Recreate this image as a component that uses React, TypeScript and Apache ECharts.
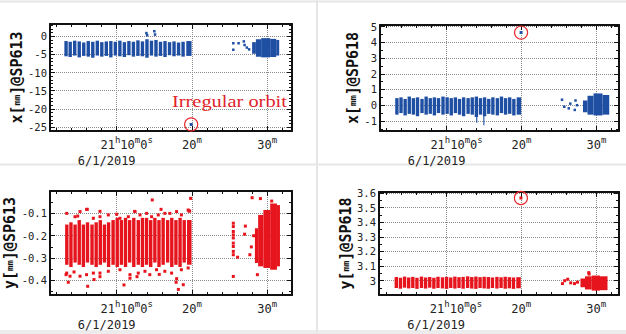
import React, { useEffect, useRef } from "react";
import * as echarts from "echarts";

// ---------- tick values ----------
const xMajorTicks = [10, 20, 30];
const xMinorTicks = [2, 4, 6, 8, 12, 14, 16, 18, 22, 24, 26, 28, 32];
const y1Major = [-25, -20, -15, -10, -5, 0];
const y1Minor = [-26, -24, -23, -22, -21, -19, -18, -17, -16, -14, -13, -12, -11, -9, -8, -7, -6, -4, -3, -2, -1, 1, 2, 3];
const y2Major = [-1, 0, 1, 2, 3, 4, 5];
const y2Minor = [-1.5, -0.5, 0.5, 1.5, 2.5, 3.5, 4.5];
const y3Major = [-0.4, -0.3, -0.2, -0.1];
const y3Minor = [-0.45, -0.35, -0.25, -0.15, -0.05];
const y4Major = [3, 3.1, 3.2, 3.3, 3.4, 3.5, 3.6];
const y4Minor = [2.95, 3.05, 3.15, 3.25, 3.35, 3.45, 3.55];

// ---------- data: minutes after 21:00, value in mm ----------
// bands: [tStart, tEnd, low, high]
const p1Bands = [
  [3.05, 3.5, -5.5, -1.3], [3.6, 4.05, -5.7, -1.5], [4.2, 4.65, -5.3, -1.2], [4.8, 5.25, -5.8, -1.4],
  [5.4, 5.85, -5.4, -1.7], [6.0, 6.45, -5.6, -1.3], [6.6, 7.05, -5.9, -1.5], [7.2, 7.65, -5.3, -1.2],
  [7.8, 8.25, -5.6, -1.6], [8.4, 8.85, -5.4, -1.4], [9.0, 9.45, -5.8, -1.3], [9.6, 10.05, -5.3, -1.5],
  [10.2, 10.65, -5.5, -1.2], [10.8, 11.25, -5.7, -1.6], [11.4, 11.85, -5.2, -1.3], [12.0, 12.45, -5.6, -1.5],
  [12.6, 13.05, -5.4, -1.1], [13.2, 13.65, -5.5, -1.4], [13.8, 14.25, -5.9, -0.8], [14.4, 14.85, -5.3, -1.2],
  [15.0, 15.45, -5.6, -1.0], [15.6, 16.05, -5.4, -1.5], [16.2, 16.65, -5.7, -1.3], [16.8, 17.25, -5.2, -1.6],
  [17.4, 17.85, -5.5, -1.4], [18.0, 18.45, -5.3, -1.7], [18.6, 19.05, -5.6, -1.5], [19.25, 19.95, -5.4, -1.3],
  [28.0, 28.5, -4.8, -1.6], [28.5, 29.2, -5.6, -0.8], [29.2, 30.4, -5.8, -0.5], [30.4, 31.2, -5.7, -0.7],
  [31.2, 31.6, -5.3, -1.0],
];
const p1Points = [
  [13.95, 0.9], [14.05, 0.3], [15.0, 1.4], [15.1, 0.5],
  [25.5, -1.9], [25.5, -3.7], [26.2, -1.9], [26.9, -1.4], [27.3, -3.1], [27.6, -3.6], [27.0, -2.4],
];
const p1Outlier = [[19.9, -24.3]];

const p2Bands = [
  [3.15, 3.6, -0.6, 0.45], [3.7, 4.15, -0.5, 0.5], [4.25, 4.7, -0.65, 0.4], [4.8, 5.25, -0.55, 0.55],
  [5.35, 5.8, -0.6, 0.45], [5.9, 6.35, -0.7, 0.5], [6.5, 6.95, -0.5, 0.4], [7.05, 7.5, -0.6, 0.55],
  [7.6, 8.05, -0.55, 0.45], [8.15, 8.6, -0.65, 0.5], [8.7, 9.15, -0.5, 0.45], [9.3, 9.75, -0.6, 0.55],
  [9.85, 10.3, -0.55, 0.5], [10.4, 10.85, -0.65, 0.45], [10.95, 11.4, -0.5, 0.5], [11.5, 11.95, -0.6, 0.4],
  [12.05, 12.5, -0.7, 0.5], [12.65, 13.1, -0.55, 0.45], [13.2, 13.65, -0.6, 0.5], [13.75, 14.2, -0.75, 0.55],
  [13.95, 14.1, -1.12, -0.6], [14.3, 14.75, -0.6, 0.45], [14.85, 15.3, -0.7, 0.5], [14.9, 15.05, -1.28, -0.6],
  [15.4, 15.85, -0.55, 0.4], [15.95, 16.4, -0.6, 0.5], [16.55, 17.0, -0.65, 0.45], [17.1, 17.55, -0.5, 0.55],
  [17.65, 18.1, -0.6, 0.45], [18.2, 18.65, -0.55, 0.5], [18.75, 19.2, -0.65, 0.4], [19.35, 19.95, -0.6, 0.5],
  [28.2, 28.8, -0.45, 0.3], [28.8, 29.6, -0.6, 0.6], [29.6, 30.8, -0.65, 0.75], [30.8, 31.7, -0.6, 0.65],
];
const p2Points = [
  [25.4, 0.35], [25.7, -0.1], [26.3, -0.2], [27.2, 0.3], [27.4, 0.0], [27.1, -0.3], [26.5, 0.1],
];
const p2Outlier = [[19.94, 4.62]];

const p3Bands = [
  [3.15, 3.6, -0.33, -0.15], [3.7, 4.15, -0.34, -0.14], [4.25, 4.7, -0.32, -0.15], [4.8, 5.25, -0.33, -0.13],
  [5.35, 5.8, -0.34, -0.15], [5.9, 6.35, -0.32, -0.14], [6.5, 6.95, -0.33, -0.15], [7.05, 7.5, -0.34, -0.14],
  [7.6, 8.05, -0.33, -0.13], [8.15, 8.6, -0.32, -0.15], [8.7, 9.15, -0.34, -0.14], [9.3, 9.75, -0.33, -0.13],
  [9.85, 10.3, -0.34, -0.12], [10.4, 10.85, -0.33, -0.13], [10.95, 11.4, -0.34, -0.12], [11.5, 11.95, -0.32, -0.13],
  [12.05, 12.5, -0.34, -0.12], [12.65, 13.1, -0.33, -0.13], [13.2, 13.65, -0.34, -0.12], [13.75, 14.2, -0.33, -0.12],
  [14.3, 14.75, -0.34, -0.13], [14.85, 15.3, -0.32, -0.12], [15.4, 15.85, -0.34, -0.13], [15.95, 16.4, -0.33, -0.12],
  [16.55, 17.0, -0.32, -0.13], [17.1, 17.55, -0.34, -0.12], [17.65, 18.1, -0.33, -0.13], [18.2, 18.65, -0.34, -0.12],
  [18.75, 19.2, -0.32, -0.13], [19.35, 19.95, -0.33, -0.13],
  [28.37, 28.8, -0.322, -0.167], [28.8, 29.5, -0.337, -0.107], [29.5, 30.4, -0.344, -0.085],
  [30.4, 31.3, -0.352, -0.056], [31.3, 31.7, -0.337, -0.063],
];
const p3Points = [
  [3.36, -0.1], [4.46, -0.115], [5.13, -0.092], [6.0, -0.082], [6.9, -0.122], [7.78, -0.115], [8.89, -0.107],
  [10.0, -0.104], [10.44, -0.122], [11.55, -0.115], [12.43, -0.092], [13.1, -0.107], [13.98, -0.1], [14.64, -0.115],
  [15.53, -0.107], [16.4, -0.1], [17.07, -0.1], [17.96, -0.092], [18.6, -0.107], [19.5, -0.085],
  [3.36, -0.367], [3.8, -0.381], [5.13, -0.381], [6.0, -0.374], [6.9, -0.367], [7.78, -0.367], [8.89, -0.359],
  [10.44, -0.352], [11.77, -0.374], [12.87, -0.367], [13.76, -0.359], [14.4, -0.374], [15.3, -0.352],
  [16.4, -0.359], [17.3, -0.367], [18.6, -0.352], [19.5, -0.344],
  [3.27, -0.374], [3.57, -0.408], [4.33, -0.362], [4.82, -0.112], [6.1, -0.082], [6.15, -0.426],
  [6.99, -0.396], [7.78, -0.383], [7.78, -0.091], [10.97, -0.42], [11.77, -0.39], [12.4, -0.091],
  [12.7, -0.383], [14.73, -0.04], [15.66, -0.373], [15.9, -0.082], [17.9, -0.408], [17.97, -0.392],
  [18.2, -0.44], [18.85, -0.419], [19.6, -0.089], [19.83, -0.033], [19.7, -0.09],
  [25.5, -0.144], [25.5, -0.159], [25.5, -0.181], [25.5, -0.196], [25.5, -0.21], [25.5, -0.233],
  [25.5, -0.248], [25.5, -0.27], [25.5, -0.285], [25.5, -0.382], [27.1, -0.157], [28.0, -0.03],
  [29.1, -0.034], [30.6, -0.045], [28.7, -0.374], [27.7, -0.285], [27.0, -0.193], [26.07, -0.296],
  [27.9, -0.25], [28.2, -0.2],
];

const p4Bands = [
  [3.15, 3.6, 2.95, 3.025], [3.7, 4.15, 2.945, 3.02], [4.25, 4.7, 2.952, 3.028], [4.8, 5.25, 2.947, 3.022],
  [5.35, 5.8, 2.95, 3.026], [5.9, 6.35, 2.944, 3.02], [6.5, 6.95, 2.95, 3.028], [7.05, 7.5, 2.946, 3.022],
  [7.6, 8.05, 2.952, 3.025], [8.15, 8.6, 2.945, 3.02], [8.7, 9.15, 2.95, 3.027], [9.3, 9.75, 2.947, 3.023],
  [9.85, 10.3, 2.944, 3.026], [10.4, 10.85, 2.95, 3.022], [10.95, 11.4, 2.946, 3.028], [11.5, 11.95, 2.95, 3.024],
  [12.05, 12.5, 2.945, 3.026], [12.65, 13.1, 2.95, 3.03], [13.2, 13.65, 2.946, 3.025], [13.75, 14.2, 2.944, 3.028],
  [14.3, 14.75, 2.95, 3.024], [14.85, 15.3, 2.947, 3.027], [15.4, 15.85, 2.945, 3.025], [15.95, 16.4, 2.95, 3.022],
  [16.55, 17.0, 2.946, 3.026], [17.1, 17.55, 2.95, 3.023], [17.65, 18.1, 2.945, 3.027], [18.2, 18.65, 2.948, 3.024],
  [18.75, 19.2, 2.944, 3.022], [19.35, 19.95, 2.948, 3.024],
  [27.9, 28.5, 2.955, 3.015], [28.5, 29.4, 2.94, 3.03], [29.4, 30.5, 2.932, 3.035], [30.5, 31.5, 2.935, 3.03],
];
const p4Points = [
  [25.5, 2.98], [25.8, 3.0], [26.2, 3.01], [27.1, 2.98], [27.5, 2.99], [26.6, 2.985], [29.0, 3.055], [29.05, 3.045],
];
const p4Outlier = [[19.97, 3.566]];

const BLUE = "#1f4fa3";
const RED = "#e6141c";
const MONO = "'DejaVu Sans Mono', monospace";
const TICK = { color: "#111", width: 1 };
const FRAME = { color: "#111", width: 2 };

const panels = [
  { grid: { left: 50, top: 24, width: 242, height: 107 }, x: [1.14, 33.3], y: [-26.1, 3.4], ySplit: 6,
    yMajor: y1Major, yMinor: y1Minor, v: "x", sp: "SP613", gap: 26, color: BLUE,
    bands: p1Bands, points: p1Points, outlier: p1Outlier, circle: true },
  { grid: { left: 380, top: 25, width: 239, height: 106 }, x: [1.12, 33.0], y: [-1.64, 5.1], ySplit: 7,
    yMajor: y2Major, yMinor: y2Minor, v: "x", sp: "SP618", gap: 20, color: BLUE,
    bands: p2Bands, points: p2Points, outlier: p2Outlier, circle: true },
  { grid: { left: 50, top: 191, width: 242, height: 104 }, x: [1.14, 33.3], y: [-0.465, 0], ySplit: 5,
    yMajor: y3Major, yMinor: y3Minor, v: "y", sp: "SP613", gap: 28, color: RED,
    bands: p3Bands, points: p3Points, outlier: [], circle: false },
  { grid: { left: 379, top: 192, width: 240, height: 103 }, x: [1.07, 33.03], y: [2.902, 3.607], ySplit: 7,
    yMajor: y4Major, yMinor: y4Minor, v: "y", sp: "SP618", gap: 22, color: RED,
    bands: p4Bands, points: p4Points, outlier: p4Outlier, circle: true },
];

const xLabelRich = {
  n: { fontFamily: MONO, fontSize: 12, color: "#222", lineHeight: 16, verticalAlign: "bottom" },
  s: { fontFamily: MONO, fontSize: 9, color: "#222", lineHeight: 9, verticalAlign: "top" },
  ga: { width: 22.7 },
  gb: { width: 2.7 },
  gc: { width: 20 },
};
const xLabelFormatter = (v: number) => {
  if (Math.abs(v - 10) < 1e-6) {
    return "{ga| }{n|21}{s|h}{n|10}{s|m}{n|0}{s|s}{gb| }\n{n|6/1/2019}{gc| }";
  }
  return "{n|" + v + "}{s|m}";
};

function buildOption() {
  const grids: any[] = [];
  const xAxes: any[] = [];
  const yAxes: any[] = [];
  const series: any[] = [];
  const graphic: any[] = [];

  panels.forEach((p, i) => {
    grids.push({ ...p.grid, show: false, containLabel: false, outerBoundsMode: "none" });
    const xb = {
      type: "value", gridIndex: i, min: p.x[0], max: p.x[1], splitNumber: 3,
      axisLabel: { show: false }, splitLine: { show: false },
      axisLine: { show: false, onZero: false },
    };
    xAxes.push(
      { ...xb, position: "bottom",
        axisLine: { show: true, onZero: false, lineStyle: FRAME },
        axisTick: { show: true, inside: true, length: 5, customValues: xMajorTicks, lineStyle: TICK },
        splitLine: { show: true, lineStyle: { type: "dotted", color: "#8c8c8c", width: 1 } },
        axisLabel: { show: true, customValues: xMajorTicks, margin: 4, formatter: xLabelFormatter, rich: xLabelRich, color: "#222" } },
      { ...xb, position: "bottom", axisTick: { show: true, inside: true, length: 3, customValues: xMinorTicks, lineStyle: TICK } },
      { ...xb, position: "top",
        axisLine: { show: true, onZero: false, lineStyle: FRAME },
        axisTick: { show: true, inside: true, length: 5, customValues: xMajorTicks, lineStyle: TICK } },
      { ...xb, position: "top", axisTick: { show: true, inside: true, length: 3, customValues: xMinorTicks, lineStyle: TICK } },
    );
    const yb = {
      type: "value", gridIndex: i, min: p.y[0], max: p.y[1], splitNumber: p.ySplit,
      axisLabel: { show: false }, splitLine: { show: false },
      axisLine: { show: false, onZero: false },
    };
    yAxes.push(
      { ...yb, position: "left",
        axisLine: { show: true, onZero: false, lineStyle: FRAME },
        axisTick: { show: true, inside: true, length: 5, customValues: p.yMajor, lineStyle: TICK },
        splitLine: { show: true, lineStyle: { type: "dotted", color: "#8c8c8c", width: 1 } },
        axisLabel: { show: true, customValues: p.yMajor, margin: 3, fontFamily: MONO, fontSize: 10.5, color: "#222" },
        name: "{b|" + p.v + "[}{m|mm}{b|]@" + p.sp + "}",
        nameLocation: "middle", nameRotate: 90, nameGap: p.gap,
        nameTextStyle: { rich: {
          b: { fontFamily: MONO, fontWeight: "bold", fontSize: 15, color: "#111" },
          m: { fontFamily: MONO, fontWeight: "bold", fontSize: 9, color: "#111" },
        } } },
      { ...yb, position: "left", axisTick: { show: true, inside: true, length: 3, customValues: p.yMinor, lineStyle: TICK } },
      { ...yb, position: "right",
        axisLine: { show: true, onZero: false, lineStyle: FRAME },
        axisTick: { show: true, inside: true, length: 5, customValues: p.yMajor, lineStyle: TICK } },
      { ...yb, position: "right", axisTick: { show: true, inside: true, length: 3, customValues: p.yMinor, lineStyle: TICK } },
    );
    const color = p.color;
    series.push({
      type: "custom", xAxisIndex: 4 * i, yAxisIndex: 4 * i, data: p.bands, clip: true, silent: true,
      encode: { x: [0, 1], y: [2, 3] },
      renderItem: (_params: any, api: any) => {
        const a = api.coord([api.value(0), api.value(3)]);
        const b = api.coord([api.value(1), api.value(2)]);
        return { type: "rect", shape: { x: a[0], y: a[1], width: b[0] - a[0], height: b[1] - a[1] }, style: { fill: color } };
      },
    });
    series.push({
      type: "scatter", xAxisIndex: 4 * i, yAxisIndex: 4 * i, data: p.points, symbol: "rect",
      symbolSize: color === RED ? 3 : 2.5, itemStyle: { color, opacity: 1 }, silent: true,
    });
    if (p.outlier.length) {
      series.push({
        type: "scatter", xAxisIndex: 4 * i, yAxisIndex: 4 * i, data: p.outlier, symbol: "rect",
        symbolSize: 3, itemStyle: { color, opacity: 1 }, silent: true,
      });
    }
    if (p.circle) {
      series.push({
        type: "scatter", xAxisIndex: 4 * i, yAxisIndex: 4 * i, data: p.outlier, symbol: "circle",
        symbolSize: 13, itemStyle: { color: "rgba(0,0,0,0)", borderColor: "#e8262b", borderWidth: 1.2, opacity: 1 }, silent: true, z: 5,
      });
    }
  });

  graphic.push(
    { type: "rect", shape: { x: 0, y: 330, width: 626, height: 4 }, style: { fill: "#ececec" }, silent: true },
    { type: "line", shape: { x1: 0, y1: 1.5, x2: 626, y2: 1.5 }, style: { stroke: "#e6e6e6", lineWidth: 2 }, silent: true },
    { type: "line", shape: { x1: 0, y1: 164.5, x2: 626, y2: 164.5 }, style: { stroke: "#e6e6e6", lineWidth: 2 }, silent: true },
    { type: "line", shape: { x1: 317, y1: 0, x2: 317, y2: 334 }, style: { stroke: "#e6e6e6", lineWidth: 2 }, silent: true },
    { type: "text", x: 172, y: 101, scaleX: 1.2, silent: true, z: 10,
      style: { text: "Irregular orbit", font: "17px 'Liberation Serif', serif", fill: "#e0232a", align: "left", verticalAlign: "middle" } },
  );

  return { animation: false, backgroundColor: "#ffffff", grid: grids, xAxis: xAxes, yAxis: yAxes, series, graphic };
}

export default function App() {
  const ref = useRef<HTMLDivElement>(null);
  useEffect(() => {
    if (!ref.current) return;
    const chart = echarts.init(ref.current, undefined, { renderer: "svg" });
    chart.setOption(buildOption());
    return () => chart.dispose();
  }, []);
  return <div ref={ref} style={{ position: "fixed", left: 0, top: 0, width: 626, height: 334 }} />;
}
